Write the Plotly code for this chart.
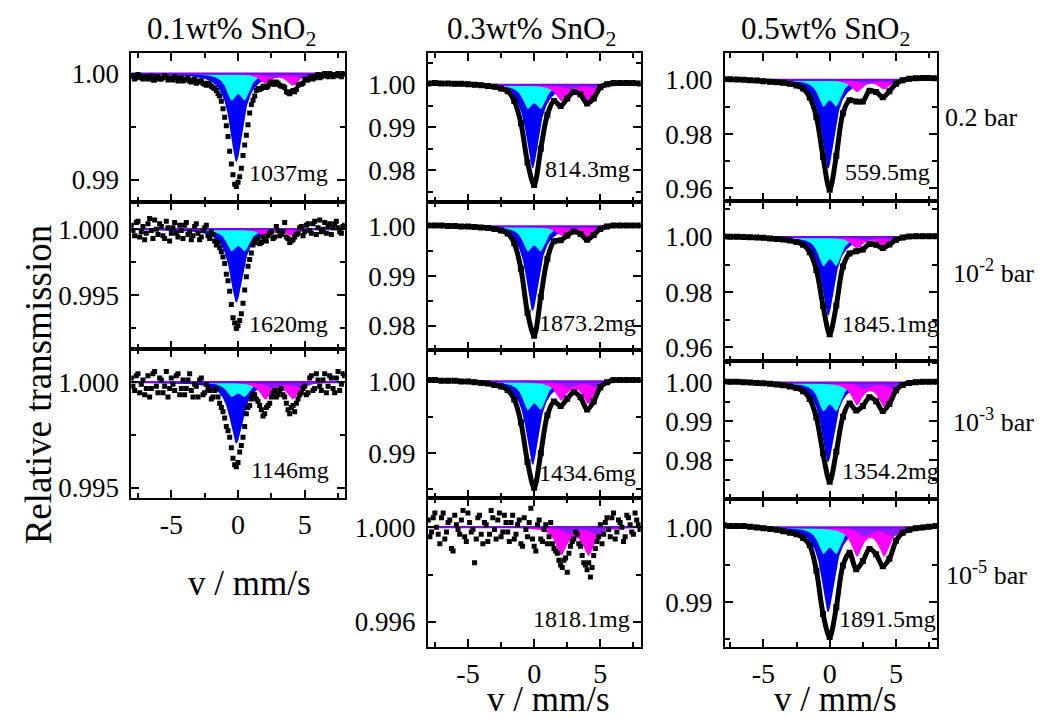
import numpy as np
import plotly.graph_objects as go

FONT = "Liberation Serif"
W, H = 1052, 718

# ---------------- data ----------------
V_COARSE = [-8.0, -7.5, -7.0, -6.5, -6.0, -5.5, -5.0, -4.5, -4.0, -3.5, -3.0, -2.5, -2.0, -1.5, -1.0, -0.5,
            0.0, 0.5, 1.0, 1.5, 2.0, 2.5, 3.0, 3.5, 4.0, 4.5, 5.0, 5.5, 6.0, 6.5, 7.0, 7.5, 8.0]
V_FINE = [-8.0, -7.75, -7.5, -7.25, -7.0, -6.75, -6.5, -6.25, -6.0, -5.75, -5.5, -5.25, -5.0, -4.75, -4.5,
          -4.25, -4.0, -3.75, -3.5, -3.25, -3.0, -2.75, -2.5, -2.25, -2.0, -1.75, -1.5, -1.25, -1.0, -0.75,
          -0.5, -0.25, 0.0, 0.25, 0.5, 0.75, 1.0, 1.25, 1.5, 1.75, 2.0, 2.25, 2.5, 2.75, 3.0, 3.25, 3.5,
          3.75, 4.0, 4.25, 4.5, 4.75, 5.0, 5.25, 5.5, 5.75, 6.0, 6.25, 6.5, 6.75, 7.0, 7.25, 7.5, 7.75, 8.0]
V_OFFSET = [-7.875, -7.625, -7.375, -7.125, -6.875, -6.625, -6.375, -6.125, -5.875, -5.625, -5.375, -5.125,
            -4.875, -4.625, -4.375, -4.125, -3.875, -3.625, -3.375, -3.125, -2.875, -2.625, -2.375, -2.125,
            -1.875, -1.625, -1.375, -1.125, -0.875, -0.625, -0.375, -0.125, 0.125, 0.375, 0.625, 0.875,
            1.125, 1.375, 1.625, 1.875, 2.125, 2.375, 2.625, 2.875, 3.125, 3.375, 3.625, 3.875, 4.125,
            4.375, 4.625, 4.875, 5.125, 5.375, 5.625, 5.875, 6.125, 6.375, 6.625, 6.875, 7.125, 7.375,
            7.625, 7.875]
X_TICKS = [-5, 0, 5]
X_TICK_TEXT = ["-5", "0", "5"]
X_MINOR_TICKS = [-7.5, -2.5, 2.5, 7.5]

T_1037 = [.9998, .9995, .9999, .9996, .9997, .9995, .9998, .9994, .9997, .9995, .9998, .9994, .9996, .9997,
          .9993, .9996, .9994, .9996, .9992, .9995, .9992, .9993, .9990, .9991, .9988, .9986, .9981, .9974,
          .9959, .9941, .9915, .9896, .9898, .9911, .9933, .9952, .9971, .9979, .9986, .9986, .9988, .9988,
          .9992, .9990, .9991, .9988, .9987, .9982, .9983, .9983, .9989, .9990, .9995, .9994, .9997, .9996,
          .9999, .9997, 1.0000, .9997, .9999, .9998, 1.0000, .9997, .9999]
T_1037_B = [.9997, .9996, .9998, .9995, .9997, .9996, .9994, .9997, .9995, .9996, .9997, .9995, .9994, .9996,
            .9995, .9993, .9995, .9993, .9994, .9991, .9993, .9991, .9989, .9990, .9987, .9984, .9979, .9967,
            .9951, .9927, .9905, .9894, .9903, .9923, .9942, .9963, .9975, .9984, .9985, .9988, .9987, .9991,
            .9990, .9992, .9989, .9988, .9983, .9981, .9984, .9985, .9990, .9991, .9994, .9996, .9995, .9998,
            .9996, .9999, .9998, 1.0000, .9997, .9999, .9998, 1.0000]
T_1620 = [1.0003, .9995, 1.0006, .9998, .9992, 1.0004, .9999, 1.0007, .9996, 1.0002, .9993, 1.0001, .9997,
          1.0005, .9994, .9999, 1.0003, .9996, .9992, 1.0002, .9997, .9994, 1.0001, .9995, .9998, .9991,
          .9990, .9983, .9974, .9961, .9943, .9929, .9927, .9936, .9954, .9972, .9982, .9990, .9993, .9990,
          .9992, .9995, .9998, .9994, .9999, .9996, 1.0005, .9993, .9991, .9994, .9997, 1.0002, .9998,
          1.0004, .9997, 1.0006, 1.0001, .9998, 1.0005, 1.0002, .9996, 1.0004, 1.0001, .9997, 1.0003]
T_1620_B = [.9999, 1.0005, .9994, 1.0002, .9997, 1.0008, .9993, 1.0000, 1.0004, .9995, 1.0006, .9991, 1.0001,
            .9997, 1.0003, .9993, 1.0005, .9998, .9995, 1.0004, .9992, .9999, 1.0003, .9993, .9996, .9988,
            .9986, .9979, .9966, .9953, .9933, .9925, .9931, .9944, .9964, .9977, .9988, .9993, .9989, .9994,
            .9991, .9997, .9993, 1.0002, .9995, .9998, .9994, .9990, .9992, .9996, 1.0001, .9995, 1.0003,
            .9999, 1.0004, .9996, 1.0007, 1.0000, .9997, 1.0004, 1.0001, 1.0006, .9998, 1.0002]
T_1146 = [1.0002, .9996, 1.0004, .9999, .9994, 1.0003, .9997, 1.0005, .9995, 1.0001, .9998, .9993, 1.0002,
          .9996, 1.0004, .9997, .9994, 1.0001, .9996, .9999, .9993, 1.0002, .9995, .9997, .9992, .9996,
          .9993, .9988, .9983, .9977, .9969, .9961, .9962, .9970, .9979, .9988, .9992, .9994, .9991, .9987,
          .9985, .9989, .9993, .9996, .9994, .9997, .9993, .9987, .9988, .9986, .9992, .9995, .9998, .9995,
          1.0003, .9997, 1.0001, .9996, 1.0004, .9998, 1.0002, .9995, 1.0005, .9999, 1.0003]
T_1146_B = [.9998, 1.0003, .9995, 1.0001, .9997, .9993, 1.0004, .9998, 1.0002, .9995, 1.0005, .9997, .9999,
            1.0003, .9994, 1.0001, .9997, 1.0004, .9993, .9998, 1.0001, .9994, .9999, .9996, .9993, .9997,
            .9990, .9986, .9979, .9974, .9964, .9960, .9967, .9974, .9985, .9989, .9994, .9992, .9989, .9984,
            .9988, .9990, .9995, .9993, .9996, .9994, .9990, .9985, .9989, .9990, .9994, .9997, .9994, 1.0002,
            .9996, 1.0004, .9998, 1.0001, .9995, 1.0003, .9997, 1.0002, .9996, 1.0004]
T_1818 = [1.0003, .9998, 1.0006, .9997, 1.0004, .9995, 1.0002, .9991, 1.0005, .9999, 1.0003, .9996, 1.0006,
          .9998, .9985, 1.0004, .9997, 1.0002, .9994, 1.0007, .9999, 1.0003, .9996, 1.0005, .9998, 1.0002,
          .9995, 1.0001, .9993, 1.0004, .9996, 1.0008, .9992, 1.0001, .9995, .9999, .9993, 1.0002, .9991,
          .9989, .9984, .9986, .9981, .9992, .9995, .9997, .9992, .9985, .9982, .9979, .9988, .9994, 1.0001,
          .9997, 1.0004, .9996, 1.0006, .9998, 1.0002, .9994, 1.0005, 1.0001, .9997, 1.0003, .9999]
T_1818_B = [.9996, 1.0004, 1.0000, .9993, 1.0006, .9998, 1.0003, .9990, 1.0001, .9997, 1.0007, .9994, 1.0002,
            .9999, .9995, 1.0005, .9993, 1.0001, .9997, 1.0004, .9995, 1.0006, .9998, 1.0002, .9994, 1.0005,
            .9997, 1.0003, .9992, .9999, 1.0002, .9995, .9990, 1.0003, .9994, 1.0001, .9996, .9993, .9990,
            .9986, .9983, .9987, .9989, .9994, .9998, .9993, .9988, .9984, .9985, .9983, .9991, .9996, .9993,
            1.0002, .9999, 1.0004, .9995, 1.0003, 1.0000, .9996, 1.0004, .9998, 1.0006, 1.0001]

T_814 = [1.0003, 1.0004, 1.0003, 1.0003, 1.0002, 1.0002, 1.0001, 1.0000, 0.9999, 0.9997, 0.9995, 0.9991,
         0.9985, 0.9962, 0.9910, 0.9818, 0.9765, 0.9850, 0.9930, 0.9962, 0.9950, 0.9968, 0.9983, 0.9977,
         0.9956, 0.9968, 0.9994, 1.0001, 1.0004, 1.0004, 1.0004, 1.0004, 1.0003]
T_1873 = [1.0002, 1.0002, 1.0002, 1.0001, 1.0001, 1.0000, 1.0000, 0.9999, 0.9998, 0.9997, 0.9995, 0.9992,
          0.9986, 0.9966, 0.9915, 0.9826, 0.9780, 0.9858, 0.9935, 0.9970, 0.9972, 0.9982, 0.9990, 0.9985,
          0.9973, 0.9983, 0.9995, 1.0000, 1.0002, 1.0002, 1.0002, 1.0002, 1.0002]
T_1434 = [1.0002, 1.0002, 1.0001, 1.0001, 1.0001, 1.0000, 1.0000, 0.9999, 0.9998, 0.9997, 0.9995, 0.9993,
          0.9988, 0.9975, 0.9943, 0.9888, 0.9852, 0.9900, 0.9953, 0.9972, 0.9966, 0.9976, 0.9985, 0.9978,
          0.9961, 0.9972, 0.9992, 0.9999, 1.0002, 1.0002, 1.0002, 1.0002, 1.0002]
T_559 = [1.0002, 1.0002, 1.0001, 1.0000, 0.9998, 0.9997, 0.9995, 0.9993, 0.9991, 0.9989, 0.9985, 0.9979,
         0.9968, 0.9935, 0.9862, 0.9716, 0.9595, 0.9720, 0.9877, 0.9925, 0.9920, 0.9920, 0.9960, 0.9955,
         0.9936, 0.9958, 0.9985, 0.9998, 1.0004, 1.0006, 1.0007, 1.0007, 1.0006]
T_1845 = [1.0002, 1.0001, 1.0001, 1.0000, 0.9999, 0.9998, 0.9997, 0.9995, 0.9993, 0.9991, 0.9987, 0.9982,
          0.9972, 0.9945, 0.9880, 0.9750, 0.9647, 0.9752, 0.9893, 0.9940, 0.9948, 0.9955, 0.9975, 0.9972,
          0.9960, 0.9973, 0.9990, 0.9998, 1.0002, 1.0003, 1.0003, 1.0003, 1.0003]
T_1354 = [1.0003, 1.0002, 1.0002, 1.0001, 1.0000, 0.9999, 0.9998, 0.9997, 0.9995, 0.9993, 0.9990, 0.9986,
          0.9978, 0.9958, 0.9910, 0.9818, 0.9745, 0.9822, 0.9912, 0.9946, 0.9928, 0.9940, 0.9962, 0.9952,
          0.9927, 0.9945, 0.9980, 0.9994, 0.9999, 1.0001, 1.0002, 1.0002, 1.0002]
T_1891 = [1.0003, 1.0002, 1.0002, 1.0002, 1.0001, 1.0000, 0.9999, 0.9998, 0.9997, 0.9995, 0.9993, 0.9991,
          0.9986, 0.9976, 0.9942, 0.9884, 0.9853, 0.9893, 0.9949, 0.9966, 0.9944, 0.9955, 0.9971, 0.9964,
          0.9948, 0.9958, 0.9982, 0.9993, 0.9997, 0.9999, 1.0000, 1.0001, 1.0002]

SAMPLES = ["1037mg", "1620mg", "1146mg", "814.3mg", "1873.2mg", "1434.6mg", "1818.1mg",
           "559.5mg", "1845.1mg", "1354.2mg", "1891.5mg"]
# fitted sub-spectra (line depths)
BLUE_DEPTH = [0.0083, 0.00555, 0.0029, 0.0196, 0.0170, 0.0116, 0.00005, 0.0327, 0.0286, 0.0204, 0.01133]
CYAN_DEPTH = [0.00216, 0.00143, 0.0006, 0.00485, 0.0043, 0.0034, 0.00003, 0.00846, 0.0090, 0.0063, 0.00305]
MAG1_DEPTH = [0.0009, 0.00055, 0.00078, 0.0036, 0.0018, 0.0025, 0.00112, 0.0044, 0.0040, 0.0055, 0.0037]
MAG2_DEPTH = [0.0011, 0.00055, 0.00078, 0.0044, 0.0022, 0.0030, 0.00115, 0.0033, 0.0030, 0.0060, 0.0037]
PURP_DEPTH = [0.0004, 0.0001, 0.0003, 0.0010, 0.0005, 0.0008, 0.00028, 0.0015, 0.0012, 0.0015, 0.0012]
BLUE_LINE = [-0.12]
CYAN_LINES = [-0.5, 0.5]
MAG_LINES = [2.05, 4.1]
PURP_LINES = [2.65, 4.75]
HWHM = {"blue": 0.6, "cyan": 0.45, "mag": 0.5, "purp": 0.55}

COL_TITLES = ["0.1wt% SnO<sub>2</sub>", "0.3wt% SnO<sub>2</sub>", "0.5wt% SnO<sub>2</sub>"]
ROW_LABELS = ["0.2 bar", "10<sup>-2</sup> bar", "10<sup>-3</sup> bar", "10<sup>-5</sup> bar"]

# ---------------- layout geometry ----------------
COLX = {0: (123.3, 336.7), 1: (420.0, 632.7), 2: (717.0, 929.0)}
XR = {0: [-8.0, 8.0], 1: [-8.02, 8.05], 2: [-7.89, 8.09]}
# col, top px, bottom px, y range, dtick, minor dtick, format, data, extra data, noisy, bottom, label pos
PANELS = [
    (0, 45, 195, [0.98797, 1.00196], 0.01, 0.005, ".2f", T_1037, T_1037_B, True, False, (322, 166)),
    (0, 195, 343.3, [0.99095, 1.00208], 0.005, 0.0025, ".3f", T_1620, T_1620_B, True, False, (322, 318)),
    (0, 343.3, 493.3, [0.99453, 1.00157], 0.005, 0.0025, ".3f", T_1146, T_1146_B, True, True, (323, 465)),
    (1, 45, 195, [0.97263, 1.0075], 0.01, 0.005, ".2f", T_814, None, False, False, (624, 162)),
    (1, 195, 344, [0.9752, 1.005], 0.01, 0.005, ".2f", T_1873, None, False, False, (630, 317)),
    (1, 344, 493.5, [0.98378, 1.00443], 0.01, 0.005, ".2f", T_1434, None, False, False, (630, 468)),
    (1, 493.5, 643.3, [0.99495, 1.00123], 0.004, 0.002, ".3f", T_1818, T_1818_B, True, True, (624, 615)),
    (2, 45, 194, [0.9555, 1.00998], 0.02, 0.01, ".2f", T_559, None, False, False, (924, 165)),
    (2, 194, 355, [0.9552, 1.0132], 0.02, 0.01, ".2f", T_1845, None, False, False, (933, 318)),
    (2, 355, 494, [0.9702, 1.00566], 0.01, 0.005, ".2f", T_1354, None, False, False, (933, 466)),
    (2, 494, 643.3, [0.984, 1.00387], 0.01, 0.005, ".2f", T_1891, None, False, True, (930, 615)),
]

v_fit = np.linspace(-8.0, 8.0, 481)


def lorentz(v, centres, depth, w):
    total = np.zeros_like(v)
    for c in centres:
        total += depth / (1.0 + ((v - c) / w) ** 2)
    return total


fig = go.Figure()
layout = {}
annotations = []

for k, (col, top, bot, yr, dt, mdt, fmt, data, data_b, noisy, bottom, lab) in enumerate(PANELS):
    n = k + 1
    xs = "x" if n == 1 else f"x{n}"
    ys = "y" if n == 1 else f"y{n}"
    i = k
    comps = [
        (lorentz(v_fit, BLUE_LINE, BLUE_DEPTH[i], HWHM["blue"]), "#0000FF"),
        (lorentz(v_fit, CYAN_LINES, CYAN_DEPTH[i], HWHM["cyan"]), "#00FFFF"),
        (lorentz(v_fit, MAG_LINES[:1], MAG1_DEPTH[i], HWHM["mag"]) +
         lorentz(v_fit, MAG_LINES[1:], MAG2_DEPTH[i], HWHM["mag"]), "#FF00FF"),
        (lorentz(v_fit, PURP_LINES, PURP_DEPTH[i], HWHM["purp"]), "#8A1CFF"),
    ]
    for absorb, colr in comps:
        px = list(v_fit) + [v_fit[-1], v_fit[0]]
        py = list(1.0 - absorb) + [1.0, 1.0]
        fig.add_trace(go.Scatter(x=px, y=py, mode="lines", fill="toself", fillcolor=colr,
                                 line=dict(width=0, color=colr), xaxis=xs, yaxis=ys,
                                 showlegend=False, hoverinfo="skip"))
    fig.add_trace(go.Scatter(x=[-8.0, 8.0], y=[1.0, 1.0], mode="lines",
                             line=dict(color="#7F00FF", width=2.2), xaxis=xs, yaxis=ys,
                             showlegend=False, hoverinfo="skip"))
    if noisy:
        for vv, tt in ((V_FINE, data), (V_OFFSET, data_b)):
            fig.add_trace(go.Scatter(x=vv, y=tt, mode="markers",
                                     marker=dict(symbol="square", size=5, color="black"),
                                     xaxis=xs, yaxis=ys, showlegend=False))
    else:
        fig.add_trace(go.Scatter(x=V_COARSE, y=data, mode="lines+markers",
                                 line=dict(color="black", width=5, shape="spline", smoothing=0.9),
                                 marker=dict(symbol="square", size=6, color="black"),
                                 xaxis=xs, yaxis=ys, showlegend=False))

    x0, x1 = COLX[col]
    axis_common = dict(showline=True, linecolor="black", linewidth=2, mirror="ticks",
                       ticks="inside", ticklen=8, tickwidth=1.5, tickcolor="black",
                       showgrid=False, zeroline=False)
    layout["xaxis" if n == 1 else f"xaxis{n}"] = dict(
        axis_common, domain=[x0 / W, x1 / W], range=XR[col], anchor=ys,
        tickmode="array", tickvals=X_TICKS, ticktext=X_TICK_TEXT,
        showticklabels=bottom, ticklabelstandoff=1,
        minor=dict(ticks="inside", ticklen=5, tickwidth=1.5, tickcolor="black",
                   tickmode="array", tickvals=X_MINOR_TICKS),
        tickfont=dict(family=FONT, size=28, color="black"))
    layout["yaxis" if n == 1 else f"yaxis{n}"] = dict(
        axis_common, domain=[1 - bot / H, 1 - top / H], range=yr, anchor=xs,
        tick0=1.0, dtick=dt, tickformat=fmt, ticklabelstandoff=5,
        minor=dict(ticks="inside", ticklen=5, tickwidth=1.5, tickcolor="black", dtick=mdt, tick0=1.0),
        tickfont=dict(family=FONT, size=27, color="black"))
    annotations.append(dict(text=SAMPLES[i], x=lab[0] / W, y=1 - lab[1] / H, xref="paper", yref="paper",
                            xanchor="right", yanchor="middle", showarrow=False,
                            font=dict(family=FONT, size=24, color="black")))

for txt, cx in zip(COL_TITLES, [223, 523, 817]):
    annotations.append(dict(text=txt, x=cx / W, y=1 - 1 / H, xref="paper", yref="paper",
                            xanchor="center", yanchor="top", showarrow=False,
                            font=dict(family=FONT, size=31, color="black")))
for txt, (cx, cy) in zip(ROW_LABELS, [(973, 110), (985, 265), (985, 415), (978, 569)]):
    annotations.append(dict(text=txt, x=cx / W, y=1 - cy / H, xref="paper", yref="paper",
                            xanchor="center", yanchor="middle", showarrow=False,
                            font=dict(family=FONT, size=26, color="black")))
annotations.append(dict(text="v / mm/s", x=241 / W, y=1 - 580 / H, xref="paper", yref="paper",
                        xanchor="center", yanchor="middle", showarrow=False,
                        font=dict(family=FONT, size=35, color="black")))
for cx in (540, 827):
    annotations.append(dict(text="v / mm/s", x=cx / W, y=0.0, xref="paper", yref="paper",
                            xanchor="center", yanchor="bottom", showarrow=False,
                            font=dict(family=FONT, size=35, color="black")))
annotations.append(dict(text="Relative transmission", x=30 / W, y=1 - 379 / H, xref="paper", yref="paper",
                        xanchor="center", yanchor="middle", textangle=-90, showarrow=False,
                        font=dict(family=FONT, size=37, color="black")))

fig.update_layout(width=W, height=H, autosize=False, margin=dict(l=0, r=0, t=0, b=0),
                  paper_bgcolor="white", plot_bgcolor="white", showlegend=False,
                  annotations=annotations, **layout)
fig.write_html("out.html")
